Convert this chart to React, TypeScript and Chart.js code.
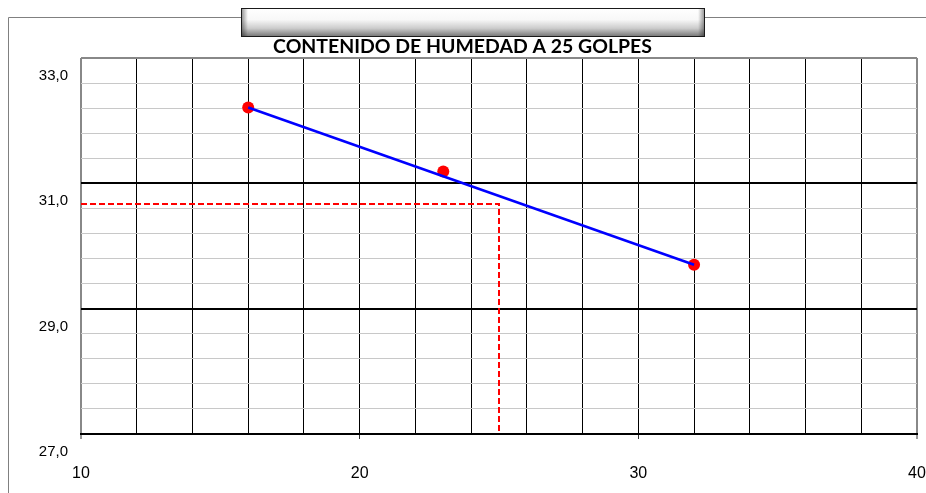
import React, { useEffect, useRef } from 'react';
import { Chart, registerables } from 'chart.js';

Chart.register(...registerables);

// ---- data ----
const golpes = [16, 23, 32];
const humedad = [32.21, 31.19, 29.7];
const trendGolpes = [16, 32];
const trendHumedad = [32.21, 29.7];
const refGolpes = [10, 25, 25];
const refHumedad = [30.67, 30.67, 27];
const xLabelTicks = [10, 20, 30, 40];
const yLabelTicks = [27, 29, 31, 33];
const yMajorLines = [27, 29, 31];
const titleText = 'CONTENIDO DE HUMEDAD A 25 GOLPES';

const near = (v: number, arr: number[]) => arr.some((a) => Math.abs(a - v) < 1e-6);

const decoPlugin = {
  id: 'deco',
  beforeDraw(chart: any) {
    const ctx = chart.ctx as CanvasRenderingContext2D;
    ctx.save();
    // outer chart border (top + left)
    ctx.strokeStyle = '#808080';
    ctx.lineWidth = 1;
    ctx.beginPath();
    ctx.moveTo(8.5, 493);
    ctx.lineTo(8.5, 17.5);
    ctx.lineTo(926, 17.5);
    ctx.stroke();

    // gradient box
    const bx = 241, by = 8, bw = 464, bh = 29;
    const g = ctx.createLinearGradient(0, by, 0, by + bh);
    g.addColorStop(0, '#ffffff');
    g.addColorStop(0.4, '#f8f8f8');
    g.addColorStop(0.7, '#cccccc');
    g.addColorStop(1, '#707070');
    ctx.fillStyle = g;
    ctx.fillRect(bx, by, bw, bh);
    const h = ctx.createLinearGradient(bx, 0, bx + bw, 0);
    h.addColorStop(0, 'rgba(0,0,0,0.45)');
    h.addColorStop(0.015, 'rgba(0,0,0,0)');
    h.addColorStop(0.985, 'rgba(0,0,0,0)');
    h.addColorStop(1, 'rgba(0,0,0,0.45)');
    ctx.fillStyle = h;
    ctx.fillRect(bx, by, bw, bh);
    ctx.strokeStyle = '#1a1a1a';
    ctx.lineWidth = 1;
    ctx.strokeRect(bx + 0.5, by + 0.5, bw - 1, bh - 1);

    // title
    ctx.font = 'bold 20px Lato';
    const w = ctx.measureText(titleText).width;
    const size = (20 * 379) / w;
    ctx.font = `bold ${size}px Lato`;
    ctx.fillStyle = '#000';
    ctx.textAlign = 'center';
    ctx.textBaseline = 'alphabetic';
    ctx.fillText(titleText, 462.5, 53);
    ctx.restore();
  },
};

export default function App() {
  const ref = useRef<HTMLCanvasElement | null>(null);

  useEffect(() => {
    if (!ref.current) return;
    const chart = new Chart(ref.current, {
      type: 'scatter',
      data: {
        datasets: [
          {
            label: 'tendencia',
            data: trendGolpes.map((x, i) => ({ x, y: trendHumedad[i] })),
            showLine: true,
            borderColor: '#0000ff',
            borderWidth: 2.5,
            pointRadius: 0,
            pointHoverRadius: 0,
          },
          {
            label: 'humedad',
            data: golpes.map((x, i) => ({ x, y: humedad[i] })),
            showLine: false,
            backgroundColor: '#ff0000',
            borderWidth: 0,
            pointRadius: 6,
          },
          {
            label: 'referencia',
            data: refGolpes.map((x, i) => ({ x, y: refHumedad[i] })),
            showLine: true,
            borderColor: '#ff0000',
            borderWidth: 2,
            borderDash: [6, 3],
            pointRadius: 0,
            pointHoverRadius: 0,
          },
        ],
      },
      options: {
        animation: false,
        responsive: false,
        layout: { padding: { left: 0, right: 9, top: 58, bottom: 0 } },
        plugins: { legend: { display: false }, tooltip: { enabled: false } },
        scales: {
          x: {
            type: 'linear',
            min: 10,
            max: 40,
            afterFit(scale: any) {
              scale.height = 59;
              scale.paddingLeft = 0;
              scale.paddingRight = 0;
            },
            ticks: {
              stepSize: 2,
              autoSkip: false,
              maxRotation: 0,
              padding: 25,
              color: '#000',
              font: { family: 'Liberation Sans', size: 16 },
              callback: (v: any) => (near(Number(v), xLabelTicks) ? String(v) : ''),
            },
            grid: {
              drawTicks: true,
              tickLength: 5,
              color: (c: any) => (near(c.tick.value, [10, 40]) ? '#888888' : '#000000'),
              lineWidth: (c: any) => (near(c.tick.value, [10, 40]) ? 2 : 1),
              tickColor: (c: any) => (near(c.tick.value, xLabelTicks) ? '#333333' : 'rgba(0,0,0,0)'),
              tickWidth: 1,
            },
            border: { display: true, color: '#000', width: 2 },
          },
          y: {
            type: 'linear',
            min: 27,
            max: 33,
            afterFit(scale: any) {
              scale.width = 81;
              scale.paddingTop = 0;
              scale.paddingBottom = 0;
            },
            ticks: {
              stepSize: 0.4,
              autoSkip: false,
              padding: 13,
              labelOffset: 18,
              color: '#000',
              font: { family: 'Liberation Sans', size: 15 },
              callback: (v: any) =>
                near(Number(v), yLabelTicks) ? Number(v).toFixed(1).replace('.', ',') : '',
            },
            grid: {
              drawTicks: false,
              color: (c: any) =>
                near(c.tick.value, yMajorLines) ? '#000000' : near(c.tick.value, [33]) ? '#888888' : '#c8c8c8',
              lineWidth: (c: any) => (near(c.tick.value, [27, 29, 31, 33]) ? 2 : 1),
            },
            border: { display: false },
          },
        },
      },
      plugins: [decoPlugin],
    } as any);
    return () => chart.destroy();
  }, []);

  return (
    <div style={{ position: 'fixed', left: 0, top: 0, width: 926, height: 493, overflow: 'hidden', background: '#fff' }}>
      <canvas ref={ref} width={926} height={493} style={{ width: 926, height: 493, display: 'block' }} />
    </div>
  );
}
